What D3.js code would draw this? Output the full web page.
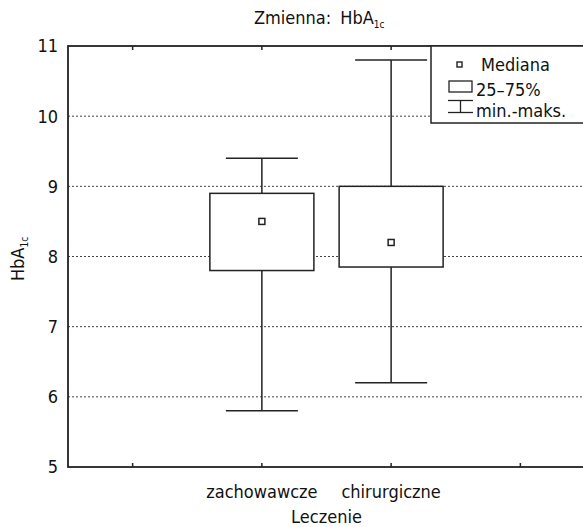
<!DOCTYPE html>
<html>
<head>
<meta charset="utf-8">
<script src="https://cdn.jsdelivr.net/npm/d3@7"></script>
<style>
  body { margin: 0; background: #fff; }
  svg text { font-family: "Liberation Sans Narrow", "DejaVu Sans Condensed", sans-serif; fill: #111; }
</style>
</head>
<body>
<svg width="583" height="527"></svg>
<script>
let categories = ["zachowawcze", "chirurgiczne"];
let mins = [5.8, 6.2];
let q1s = [7.8, 7.85];
let medians = [8.5, 8.2];
let q3s = [8.9, 9.0];
let maxs = [9.4, 10.8];
let yTicks = [5, 6, 7, 8, 9, 10, 11];
let gridTicks = [6, 7, 8, 9, 10];
let xTicks = [0.5, 1.5, 2.5, 3.5];

let boxes = categories.map((c, i) => ({
  name: c, pos: i + 1.5,
  min: mins[i], q1: q1s[i], med: medians[i], q3: q3s[i], max: maxs[i]
}));

let margin = {top: 46, left: 68};
let width = 517;

let svg = d3.select("svg");
let g = svg.append("g")
    .attr("transform", "translate(" + margin.left + "," + margin.top + ")");

let x = d3.scaleLinear().domain([0, 4]).range([0, width]);
let y = d3.scaleLinear().domain([5, 11]).range([421, 0]);

// grid
g.selectAll(".grid").data(gridTicks)
  .enter().append("line")
    .attr("x1", 0).attr("x2", width)
    .attr("y1", d => y(d)).attr("y2", d => y(d))
    .attr("stroke", "#444").attr("stroke-width", 1)
    .attr("stroke-dasharray", "2,2");

// frame
g.append("rect")
    .attr("x", 0).attr("y", 0)
    .attr("width", width).attr("height", y(5))
    .attr("fill", "none").attr("stroke", "#222").attr("stroke-width", 1.8);

// y axis labels
g.selectAll(".ylab").data(yTicks)
  .enter().append("text")
    .attr("x", -10).attr("y", d => y(d))
    .attr("dy", "0.36em")
    .attr("text-anchor", "end")
    .style("font-size", "18px")
    .text(d => d);

// x ticks bottom and top
g.selectAll(".xtb").data(xTicks)
  .enter().append("line")
    .attr("x1", d => x(d)).attr("x2", d => x(d))
    .attr("y1", y(5)).attr("y2", y(5) - 4)
    .attr("stroke", "#222").attr("stroke-width", 1.5);
g.selectAll(".xtt").data(xTicks)
  .enter().append("line")
    .attr("x1", d => x(d)).attr("x2", d => x(d))
    .attr("y1", 0).attr("y2", 4)
    .attr("stroke", "#222").attr("stroke-width", 1.5);

// category labels
g.selectAll(".xlab").data(boxes)
  .enter().append("text")
    .attr("x", d => x(d.pos)).attr("y", y(5) + 31)
    .attr("text-anchor", "middle")
    .style("font-size", "18px")
    .text(d => d.name);

// boxes
let bw = 104, cw = 72;
let b = g.selectAll(".box").data(boxes).enter().append("g");
b.append("line")
    .attr("x1", d => x(d.pos)).attr("x2", d => x(d.pos))
    .attr("y1", d => y(d.min)).attr("y2", d => y(d.max))
    .attr("stroke", "#222").attr("stroke-width", 1.5);
b.append("line")
    .attr("x1", d => x(d.pos) - cw / 2).attr("x2", d => x(d.pos) + cw / 2)
    .attr("y1", d => y(d.min)).attr("y2", d => y(d.min))
    .attr("stroke", "#222").attr("stroke-width", 1.5);
b.append("line")
    .attr("x1", d => x(d.pos) - cw / 2).attr("x2", d => x(d.pos) + cw / 2)
    .attr("y1", d => y(d.max)).attr("y2", d => y(d.max))
    .attr("stroke", "#222").attr("stroke-width", 1.5);
b.append("rect")
    .attr("x", d => x(d.pos) - bw / 2).attr("width", bw)
    .attr("y", d => y(d.q3)).attr("height", d => y(d.q1) - y(d.q3))
    .attr("fill", "#fff").attr("stroke", "#222").attr("stroke-width", 1.5);
b.append("rect")
    .attr("x", d => x(d.pos) - 3).attr("y", d => y(d.med) - 3)
    .attr("width", 6).attr("height", 6)
    .attr("fill", "#fff").attr("stroke", "#222").attr("stroke-width", 1.5);

// legend
let lg = svg.append("g");
lg.append("rect")
    .attr("x", 431).attr("y", 46).attr("width", 160).attr("height", 77)
    .attr("fill", "#fff").attr("stroke", "#222").attr("stroke-width", 1.5);
lg.append("rect")
    .attr("x", 457).attr("y", 62).attr("width", 5).attr("height", 5)
    .attr("fill", "#fff").attr("stroke", "#222").attr("stroke-width", 1.4);
lg.append("text").attr("x", 481).attr("y", 71).style("font-size", "18px").text("Mediana");
lg.append("rect")
    .attr("x", 449).attr("y", 81).attr("width", 23).attr("height", 11)
    .attr("fill", "#fff").attr("stroke", "#222").attr("stroke-width", 1.3);
lg.append("text").attr("x", 476).attr("y", 96).style("font-size", "18px").text("25–75%");
lg.append("line").attr("x1", 448).attr("x2", 473).attr("y1", 100.5).attr("y2", 100.5)
    .attr("stroke", "#222").attr("stroke-width", 1.3);
lg.append("line").attr("x1", 448).attr("x2", 473).attr("y1", 112.5).attr("y2", 112.5)
    .attr("stroke", "#222").attr("stroke-width", 1.3);
lg.append("line").attr("x1", 460.5).attr("x2", 460.5).attr("y1", 100.5).attr("y2", 112.5)
    .attr("stroke", "#222").attr("stroke-width", 1.3);
lg.append("text").attr("x", 476).attr("y", 117).style("font-size", "18px").text("min.-maks.");

// title
let t = svg.append("text")
    .attr("x", 254).attr("y", 24)
    .style("font-size", "18px");
t.append("tspan").text("Zmienna:");
t.append("tspan").attr("dx", 9).text("HbA");
t.append("tspan").attr("dy", 4).style("font-size", "10px").text("1c");

// x axis title
svg.append("text")
    .attr("x", margin.left + x(2)).attr("y", 523)
    .attr("text-anchor", "middle")
    .style("font-size", "18px")
    .text("Leczenie");

// y axis title
let yt = svg.append("text")
    .attr("transform", "translate(24,259) rotate(-90)")
    .attr("text-anchor", "middle")
    .style("font-size", "18px");
yt.append("tspan").text("HbA");
yt.append("tspan").attr("dy", 4).style("font-size", "10px").text("1c");
</script>
</body>
</html>
